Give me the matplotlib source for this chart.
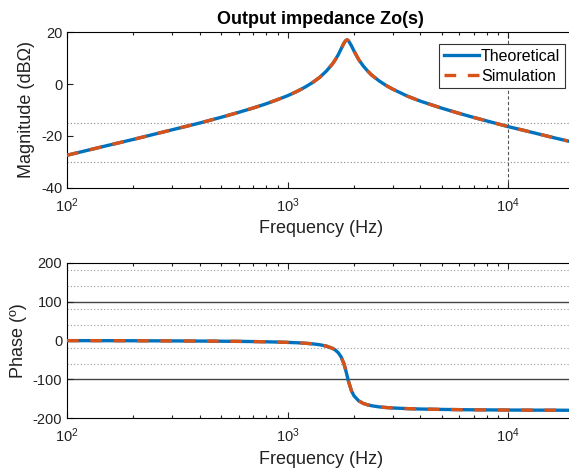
import matplotlib
matplotlib.use("Agg")
import matplotlib.pyplot as plt
from matplotlib.ticker import LogLocator, FixedLocator

plt.rcParams['font.family'] = ['Liberation Sans', 'DejaVu Sans']
plt.rcParams['axes.unicode_minus'] = False

# values
freq = [100, 150, 200, 300, 400, 500, 600, 700, 800, 900, 1000, 1100, 1200,
        1300, 1400, 1500, 1600, 1650, 1700, 1750, 1800, 1830, 1860, 1890, 1950,
        2000, 2100, 2200, 2300, 2400, 2600, 2800, 3000, 3500, 4000, 5000, 6000,
        7000, 8000, 10000, 12000, 14000, 16000, 18600]
mag_db = [-27.4, -23.8, -21.3, -17.6, -15.0, -12.8, -10.9, -9.2, -7.6, -6.0,
          -4.5, -2.9, -1.2, 0.6, 2.6, 5.0, 7.8, 9.5, 11.4, 13.6, 15.7, 16.6,
          17.0, 16.6, 14.6, 12.7, 9.4, 7.0, 5.1, 3.5, 1.2, -0.6, -2.0, -4.7,
          -6.6, -9.3, -11.3, -12.9, -14.2, -16.4, -18.0, -19.4, -20.6, -21.9]
phase_deg = [-0.4, -0.5, -0.7, -1.1, -1.5, -1.9, -2.3, -2.8, -3.4, -4.1, -4.9,
             -5.8, -7.1, -8.7, -11.0, -14.5, -20.4, -25.1, -32.0, -42.6, -59.7,
             -73.9, -90.0, -105.9, -130.1, -142.3, -155.2, -161.6, -165.3,
             -167.7, -170.7, -172.4, -173.5, -175.2, -176.2, -177.2, -177.8,
             -178.2, -178.4, -178.8, -179.0, -179.1, -179.2, -179.4]

mag_ref_lines = [-15, -30]
phase_dotted = [180, 140, 80, 40, -20, -60]
phase_solid = [100, -100]

blue = '#0072BD'
orange = '#D95319'

fig = plt.figure(figsize=(5.69, 4.72), dpi=100)
ax1 = fig.add_axes([0.1178, 0.6017, 0.892, 0.3305])
ax2 = fig.add_axes([0.1178, 0.1138, 0.892, 0.3297])

for ax in (ax1, ax2):
    ax.set_xscale('log')
    ax.set_xlim(100, 2.0e4)
    ax.spines['right'].set_visible(False)
    ax.xaxis.set_major_locator(LogLocator(base=10))
    ax.xaxis.set_minor_locator(LogLocator(base=10, subs=range(2, 10)))
    ax.tick_params(which='both', direction='in', top=True, right=False,
                   labelsize=10.5, width=0.8, colors='#222222')
    ax.tick_params(which='major', length=4.5)
    ax.tick_params(which='minor', length=2.5)
    ax.tick_params(axis='x', pad=6)
    ax.set_xlabel('Frequency (Hz)', fontsize=13, color='#222222', labelpad=4)

# magnitude
for y in mag_ref_lines:
    ax1.axhline(y, color='#888888', lw=0.8, ls=(0, (1, 2)), zorder=1)
ax1.axvline(1e4, color='#555555', lw=0.8, ls=(0, (3, 2)), zorder=1)
ax1.plot(freq, mag_db, color=blue, lw=2.4, label='Theoretical', zorder=3)
ax1.plot(freq, mag_db, color=orange, lw=2.4, dashes=(3.5, 3.5),
         label='Simulation', zorder=4)
ax1.set_ylim(-40, 20)
ax1.yaxis.set_major_locator(FixedLocator([-40, -20, 0, 20]))
ax1.set_ylabel('Magnitude (dB\u03a9)', fontsize=13, color='#222222')
ax1.set_title('Output impedance Zo(s)', fontsize=13, fontweight='bold', pad=6)
leg = ax1.legend(loc='upper right', bbox_to_anchor=(0.981, 0.923), fontsize=11.5,
                 handlelength=2.2, handletextpad=0.1, borderpad=0.3,
                 labelspacing=0.3, fancybox=False, framealpha=1,
                 borderaxespad=0)
leg.get_frame().set_edgecolor('#333333')
leg.get_frame().set_linewidth(0.8)

# phase
for y in phase_dotted:
    ax2.axhline(y, color='#999999', lw=0.8, ls=(0, (1, 2)), zorder=1)
for y in phase_solid:
    ax2.axhline(y, color='#444444', lw=1.0, zorder=1)
ax2.plot(freq, phase_deg, color=blue, lw=2.4, zorder=3)
ax2.plot(freq, phase_deg, color=orange, lw=2.4, dashes=(3.5, 3.5), zorder=4)
ax2.set_ylim(-200, 200)
ax2.yaxis.set_major_locator(FixedLocator([-200, -100, 0, 100, 200]))
ax2.set_ylabel('Phase (\u00ba)', fontsize=13, color='#222222')

fig.savefig('out.png', dpi=100)
